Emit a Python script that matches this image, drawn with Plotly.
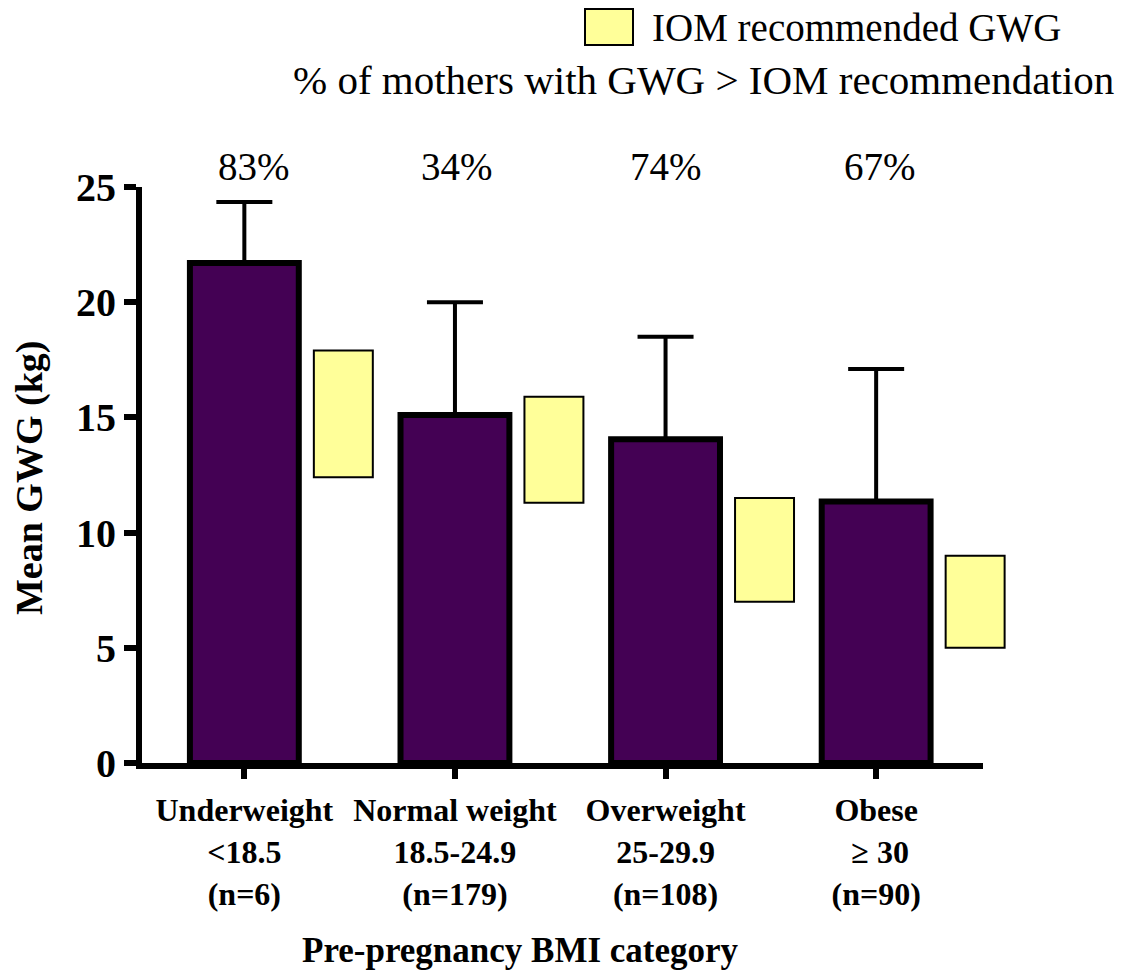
import plotly.graph_objects as go

# ---------------- data ----------------
categories = ["Underweight<br><18.5<br>(n=6)",
              "Normal weight<br>18.5-24.9<br>(n=179)",
              "Overweight<br>25-29.9<br>(n=108)",
              "Obese<br> ≥ 30<br>(n=90)"]
positions = [0, 1, 2, 3]
mean_gwg = [21.7, 15.1, 14.05, 11.35]
sd_gwg = [2.65, 4.9, 4.45, 5.75]
iom_low = [12.4, 11.3, 7.0, 5.0]
iom_high = [17.9, 15.9, 11.5, 9.0]
pct_above = ["83%", "34%", "74%", "67%"]
y_ticks = [0, 5, 10, 15, 20, 25]

# ---------------- layout helpers (pixel -> paper) ----------------
W, H = 1129, 979
ML, MR, MT, MB = 142, 119, 187, 216
PW, PH = W - ML - MR, H - MT - MB
X_MIN = -0.486
X_MAX = X_MIN + PW / 210.6


def px(x):
    return (x - ML) / PW


def py(y):
    return (H - MB - y) / PH


SERIF = "Liberation Serif, Times New Roman, serif"
iom_offset = 0.47

fig = go.Figure()

fig.add_trace(go.Bar(
    x=positions, y=mean_gwg, width=0.517,
    marker=dict(color="#440154", line=dict(color="black", width=6)),
    error_y=dict(type="data", array=sd_gwg, arrayminus=[0] * len(sd_gwg),
                 symmetric=False, color="black", thickness=4, width=28),
    name="Mean GWG", showlegend=False,
))

fig.add_trace(go.Bar(
    x=[p + iom_offset for p in positions],
    y=[h - l for h, l in zip(iom_high, iom_low)],
    base=iom_low, width=0.28,
    marker=dict(color="#FFFF99", line=dict(color="black", width=2)),
    name="IOM recommended GWG", showlegend=False,
))

annotations = []
# percentages above bars
pct_shift = [10, 2, 0, 4]
for p, t, s in zip(positions, pct_above, pct_shift):
    annotations.append(dict(x=p, y=py(166), xref="x", yref="paper", text=t,
                            showarrow=False, xshift=s, yanchor="middle",
                            font=dict(family=SERIF, size=39, color="black")))
# legend-like texts
annotations.append(dict(x=px(650), y=py(28), xref="paper", yref="paper",
                        text="IOM recommended GWG", showarrow=False,
                        xanchor="left", yanchor="middle",
                        font=dict(family=SERIF, size=39, color="black")))
annotations.append(dict(x=px(1116), y=py(80), xref="paper", yref="paper",
                        text="% of mothers with GWG > IOM recommendation",
                        showarrow=False, xanchor="right", yanchor="middle",
                        font=dict(family=SERIF, size=41, color="black")))
# axis titles
annotations.append(dict(x=px(520), y=py(950), xref="paper", yref="paper",
                        text="<b>Pre-pregnancy BMI category</b>", showarrow=False,
                        xanchor="center", yanchor="middle",
                        font=dict(family=SERIF, size=35, color="black")))
annotations.append(dict(x=px(30), y=py(478), xref="paper", yref="paper",
                        text="<b>Mean GWG (kg)</b>", showarrow=False, textangle=-90,
                        xanchor="center", yanchor="middle",
                        font=dict(family=SERIF, size=38, color="black")))

shapes = [
    # legend swatch
    dict(type="rect", xref="paper", yref="paper",
         x0=px(585), x1=px(633), y0=py(45), y1=py(9),
         fillcolor="#FFFF99", line=dict(color="black", width=2)),
    # x axis baseline (ends before the last IOM box, as in the original)
    dict(type="line", xref="paper", yref="paper",
         x0=px(136), x1=px(983), y0=py(766), y1=py(766),
         line=dict(color="black", width=6)),
]

fig.update_layout(
    width=W, height=H,
    margin=dict(l=ML, r=MR, t=MT, b=MB, pad=0),
    paper_bgcolor="white", plot_bgcolor="white",
    barmode="overlay",
    annotations=annotations, shapes=shapes,
    font=dict(family=SERIF, color="black"),
    xaxis=dict(range=[X_MIN, X_MAX], tickmode="array", tickvals=positions,
               ticktext=["<b>" + c + "</b>" for c in categories],
               showline=False,
               ticks="outside", ticklen=15, tickwidth=6, tickcolor="black",
               ticklabelstandoff=4,
               showgrid=False, zeroline=False,
               tickfont=dict(family=SERIF, size=32, color="black")),
    yaxis=dict(range=[0, 25], tickmode="array", tickvals=y_ticks,
               ticktext=["<b>%d</b>" % v for v in y_ticks],
               showline=True, linecolor="black", linewidth=6,
               ticks="outside", ticklen=12, tickwidth=6, tickcolor="black",
               showgrid=False, zeroline=False,
               tickfont=dict(family=SERIF, size=40, color="black")),
)

fig.write_html("out.html")
